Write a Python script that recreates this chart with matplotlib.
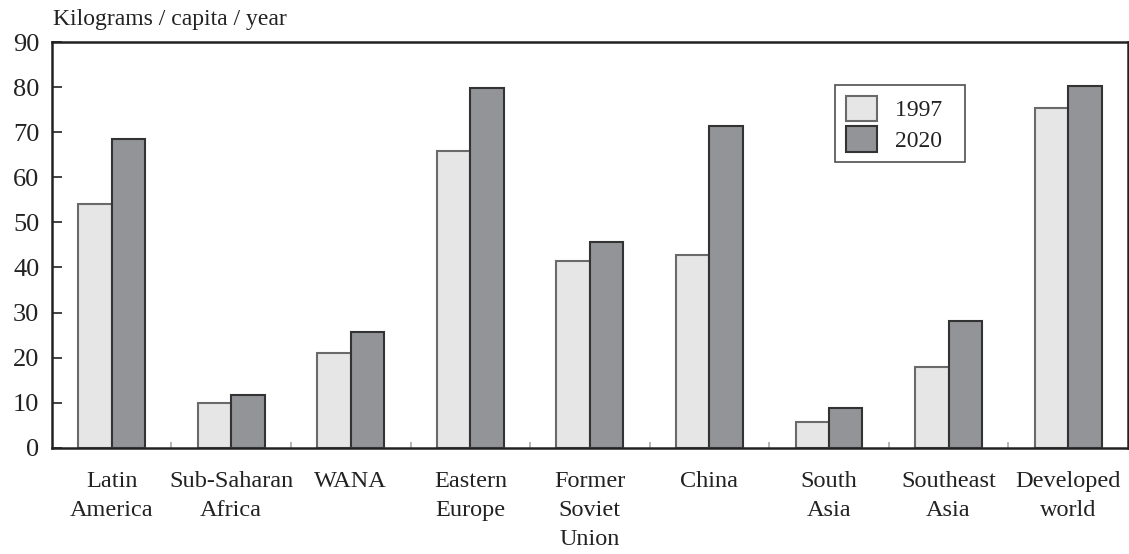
import matplotlib
matplotlib.use("Agg")
import matplotlib.pyplot as plt
import numpy as np

categories = ["Latin\nAmerica", "Sub-Saharan\nAfrica", "WANA", "Eastern\nEurope",
              "Former\nSoviet\nUnion", "China", "South\nAsia", "Southeast\nAsia", "Developed\nworld"]
values_1997 = [54.0, 10.0, 21.1, 65.8, 41.4, 42.7, 5.6, 18.0, 75.5]
values_2020 = [68.6, 11.6, 25.7, 79.9, 45.7, 71.5, 8.8, 28.2, 80.4]
series_labels = ["1997", "2020"]
y_ticks = [0, 10, 20, 30, 40, 50, 60, 70, 80, 90]

plt.rcParams['font.family'] = ['Liberation Serif', 'DejaVu Serif']

fig = plt.figure(figsize=(11.29, 5.54), dpi=100)
ax = fig.add_axes([0.046, 0.192, 0.953, 0.7316])

x = np.arange(len(categories))
w = 0.28
ax.bar(x - w/2, values_1997, w, color="#e6e6e6", edgecolor="#6a6a6a", linewidth=1.5,
       label=series_labels[0] + "  ", zorder=2)
ax.bar(x + w/2, values_2020, w, color="#939498", edgecolor="#333333", linewidth=1.5,
       label=series_labels[1] + "  ", zorder=3)

ax.set_xlim(-0.5, len(categories) - 0.5)
ax.set_ylim(0, 90)
ax.set_yticks(y_ticks)
ax.set_yticklabels([str(t) for t in y_ticks], fontsize=19, color="#222222")
ax.tick_params(axis='y', direction='in', length=7, width=1.2, color="#222222", pad=9)

ax.set_xticks(x)
ax.set_xticklabels(categories, fontsize=17.5, color="#222222", linespacing=1.5)
ax.tick_params(axis='x', which='major', length=0, pad=17)
ax.set_xticks(np.arange(0.5, len(categories) - 1, 1.0), minor=True)
ax.tick_params(axis='x', which='minor', direction='in', length=4, width=1.2, color="#aaaaaa")

for s in ax.spines.values():
    s.set_linewidth(1.8)
    s.set_color("#222222")

leg = ax.legend(loc='upper left', bbox_to_anchor=(0.728, 0.895), frameon=True, fancybox=False,
                edgecolor="#222222", fontsize=17, handlelength=1.3, handleheight=1.3,
                borderpad=0.45, labelspacing=0.2, handletextpad=0.8, borderaxespad=0)
leg.get_frame().set_linewidth(1.2)
for t in leg.get_texts():
    t.set_color("#222222")

fig.text(0.047, 0.965, "Kilograms / capita / year", fontsize=17, color="#222222",
         va='center', ha='left')

fig.savefig("out.png", dpi=100)
